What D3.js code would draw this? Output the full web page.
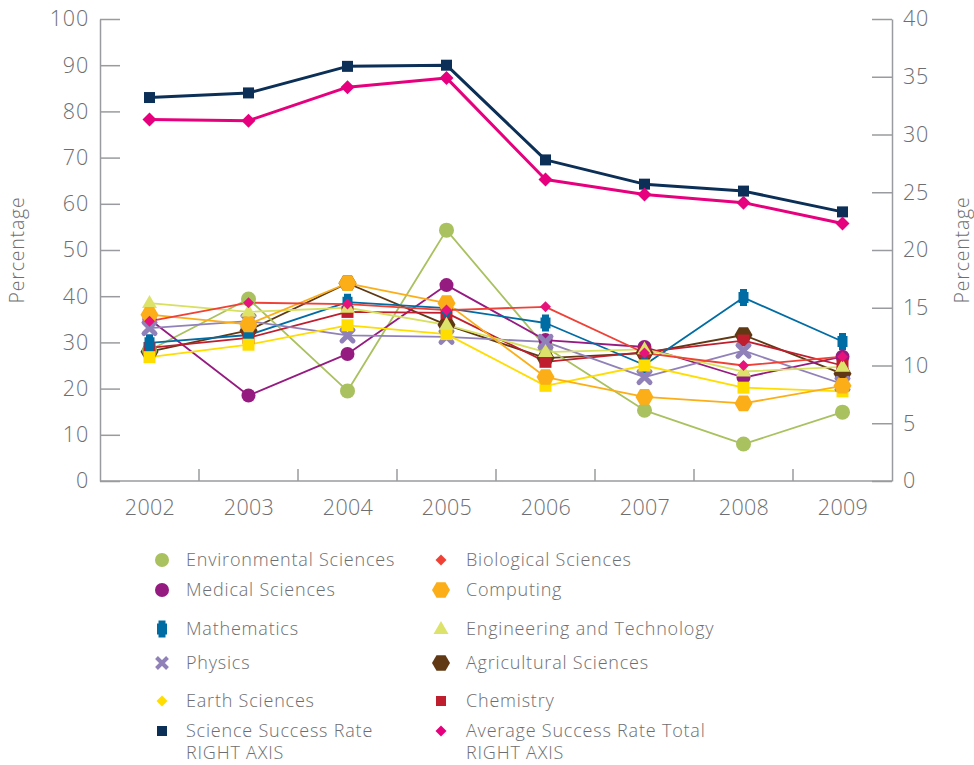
<!DOCTYPE html>
<html><head><meta charset="utf-8">
<script src="https://cdn.jsdelivr.net/npm/d3@7"></script>
<style>
body{margin:0;background:#fff;}
text{font-family:"Open Sans",Lato,sans-serif;font-weight:300;}
</style></head>
<body><svg id="chart" width="974" height="765"></svg>
<script>
const years = [2002, 2003, 2004, 2005, 2006, 2007, 2008, 2009];
const leftTicks = [0, 10, 20, 30, 40, 50, 60, 70, 80, 90, 100];
const rightTicks = [0, 5, 10, 15, 20, 25, 30, 35, 40];

const environmental = [28.3, 39.4, 19.5, 54.3, 29.0, 15.3, 8.0, 14.9];
const medical       = [35.0, 18.5, 27.5, 42.4, 30.5, 29.0, 22.4, 26.9];
const mathematics   = [29.9, 31.6, 38.7, 37.4, 34.2, 25.1, 39.7, 30.2];
const physics       = [33.1, 34.6, 31.5, 31.2, 30.1, 22.5, 28.2, 21.0];
const earth         = [26.8, 29.5, 33.7, 31.8, 20.6, 25.0, 20.2, 19.4];
const biological    = [34.6, 38.6, 38.3, 37.0, 37.7, 27.7, 25.0, 26.9];
const computing     = [36.0, 33.9, 42.8, 38.5, 22.5, 18.2, 16.8, 20.6];
const engineering   = [38.5, 36.6, 37.5, 33.8, 27.9, 28.5, 23.7, 24.7];
const agricultural  = [28.0, 32.6, 42.8, 33.8, 26.6, 27.7, 31.6, 23.2];
const chemistry     = [28.8, 31.0, 36.6, 36.4, 25.8, 27.9, 30.4, 25.0];
// right axis
const scienceSuccess = [33.2, 33.6, 35.9, 36.0, 27.8, 25.7, 25.1, 23.3];
const averageSuccess = [31.3, 31.2, 34.1, 34.9, 26.1, 24.8, 24.1, 22.3];

const svg = d3.select("#chart");
const L = 100, R = 892, T = 19, B = 481;
const x = d3.scalePoint().domain(years).range([L, R]).padding(0.5);
const xb = d3.scaleBand().domain(years).range([L, R]);
const yL = d3.scaleLinear().domain([0, 100]).range([B, T]);
const yR = d3.scaleLinear().domain([0, 40]).range([B, T]);

const axisCol = "#9a9b9e", textCol = "#6d6e71";
const FONT = '"Open Sans", Lato, sans-serif';

// shapes
const P = {
  circle: r => `M${-r},0A${r},${r} 0 1,0 ${r},0A${r},${r} 0 1,0 ${-r},0Z`,
  hex: r => { const h = r * Math.sqrt(3) / 2; return `M${-r},0L${-r/2},${-h}L${r/2},${-h}L${r},0L${r/2},${h}L${-r/2},${h}Z`; },
  tri: s => { const h = s * Math.sqrt(3) / 2; return `M0,${-h*0.62}L${s/2},${h*0.38}L${-s/2},${h*0.38}Z`; },
  square: s => `M${-s/2},${-s/2}h${s}v${s}h${-s}Z`,
  diamond: r => `M0,${-r}L${r},0L0,${r}L${-r},0Z`,
  math: s => `M${-s*0.35},${-s*0.85}h${s*0.7}v${s*0.3}h${s*0.15}v${s*1.1}h${-s*0.15}v${s*0.3}h${-s*0.7}v${-s*0.3}h${-s*0.15}v${-s*1.1}h${s*0.15}Z`,
  xcross: r => `M${-r},${-r}L${r},${r}M${r},${-r}L${-r},${r}`
};

const series = [
  {name:"Agricultural Sciences", data:agricultural, line:"#603813", fill:"#603813", shape:"hex", size:9, lsize:9, axis:"L"},
  {name:"Environmental Sciences", data:environmental, line:"#a9c15f", fill:"#a9c15f", shape:"circle", size:7.5, lsize:7, axis:"L"},
  {name:"Medical Sciences", data:medical, line:"#951b81", fill:"#951b81", shape:"circle", size:7, lsize:7, axis:"L"},
  {name:"Chemistry", data:chemistry, line:"#be1e2d", fill:"#be1e2d", shape:"square", size:12, lsize:10, axis:"L"},
  {name:"Mathematics", data:mathematics, line:"#006ca4", fill:"#006ca4", shape:"math", size:10, lsize:10, axis:"L"},
  {name:"Physics", data:physics, line:"#9181b9", fill:"none", stroke:"#9181b9", shape:"xcross", size:5.5, lsize:5.5, axis:"L"},
  {name:"Earth Sciences", data:earth, line:"#ffdd00", fill:"#ffdd00", shape:"square", size:12, lshape:"diamond", lsize:5.5, axis:"L"},
  {name:"Engineering and Technology", data:engineering, line:"#d7e05f", fill:"#dde36a", shape:"tri", size:15, lsize:15, axis:"L"},
  {name:"Computing", data:computing, line:"#fbae17", fill:"#fbae17", shape:"hex", size:9, lsize:9, axis:"L"},
  {name:"Biological Sciences", data:biological, line:"#ef4136", fill:"#e8127c", lfill:"#ef4136", shape:"diamond", size:5.5, lsize:5.5, axis:"L"},
  {name:"Science Success Rate", sub:"RIGHT AXIS", data:scienceSuccess, line:"#0b2f56", fill:"#0b2f56", shape:"square", size:11, lsize:10, axis:"R", width:3},
  {name:"Average Success Rate Total", sub:"RIGHT AXIS", data:averageSuccess, line:"#e6007e", fill:"#e6007e", shape:"diamond", size:7, lsize:5.5, axis:"R", width:3}
];

// axes
const gL = svg.append("g").attr("transform", `translate(${L},0)`)
  .call(d3.axisLeft(yL).tickValues(leftTicks).tickSize(-20).tickSizeOuter(0).tickPadding(11));
const gR = svg.append("g").attr("transform", `translate(${R},0)`)
  .call(d3.axisRight(yR).tickValues(rightTicks).tickSize(-20).tickSizeOuter(0).tickPadding(11));
const gB = svg.append("g").attr("transform", `translate(0,${B})`)
  .call(d3.axisBottom(x).tickSize(0).tickSizeOuter(0).tickPadding(19));
gB.select(".domain").attr("d", `M${L},0H${R}`);
gB.selectAll(".btick").data(years.slice(1)).enter().append("line")
  .attr("class","btick").attr("x1", d => xb(d)).attr("x2", d => xb(d))
  .attr("y1", 0).attr("y2", -12);
[gL, gR, gB].forEach(g => {
  g.selectAll(".domain, line").attr("stroke", axisCol).attr("stroke-width", 1.5);
  g.selectAll("text").attr("fill", textCol).attr("font-size", 21.5).attr("font-family", FONT)
    .attr("font-weight", 300).attr("letter-spacing", 0.8);
});
gB.selectAll("text").attr("letter-spacing", 0.3);

svg.append("text").attr("transform", "translate(24,250) rotate(-90)")
  .attr("text-anchor","middle").attr("fill", textCol).attr("font-size", 19.5)
  .attr("letter-spacing", 0.8).text("Percentage");
svg.append("text").attr("transform", "translate(969,250) rotate(-90)")
  .attr("text-anchor","middle").attr("fill", textCol).attr("font-size", 19.5)
  .attr("letter-spacing", 0.8).text("Percentage");

// lines
series.forEach(s => {
  const y = s.axis === "L" ? yL : yR;
  const line = d3.line().x((d, i) => x(years[i])).y(d => y(d));
  svg.append("path").datum(s.data).attr("d", line)
    .attr("fill", "none").attr("stroke", s.line).attr("stroke-width", s.width || 1.8)
    .attr("stroke-linejoin", "round");
});
// markers
series.forEach(s => {
  const y = s.axis === "L" ? yL : yR;
  svg.append("g").selectAll("path").data(s.data).enter().append("path")
    .attr("transform", (d, i) => `translate(${x(years[i])},${y(d)})`)
    .attr("d", P[s.shape](s.size))
    .attr("fill", s.fill)
    .attr("stroke", s.stroke || "none")
    .attr("stroke-width", s.stroke ? 5 : 0)
    .attr("stroke-linecap", "round");
});

// legend
const legendOrder = ["Environmental Sciences","Biological Sciences","Medical Sciences","Computing","Mathematics","Engineering and Technology","Physics","Agricultural Sciences","Earth Sciences","Chemistry","Science Success Rate","Average Success Rate Total"];
const rowY = [560, 590, 629, 663, 701, 731];
legendOrder.forEach((n, k) => {
  const s = series.find(d => d.name === n);
  const col = k % 2, row = Math.floor(k / 2);
  const mx = col ? 441 : 162, tx = col ? 466 : 186, yy = rowY[row];
  const shape = s.lshape || s.shape;
  svg.append("path").attr("transform", `translate(${mx},${yy})`)
    .attr("d", P[shape](s.lsize))
    .attr("fill", s.lfill || s.fill).attr("stroke", s.stroke || "none")
    .attr("stroke-width", s.stroke ? 4 : 0).attr("stroke-linecap","butt");
  svg.append("text").attr("x", tx).attr("y", yy).attr("dy", "0.35em")
    .attr("fill", textCol).attr("font-size", 18).attr("letter-spacing", 0.8).text(s.name);
  if (s.sub) svg.append("text").attr("x", tx).attr("y", yy + 22).attr("dy", "0.35em")
    .attr("fill", textCol).attr("font-size", 18).attr("letter-spacing", 0.8).text(s.sub);
});
</script></body></html>
